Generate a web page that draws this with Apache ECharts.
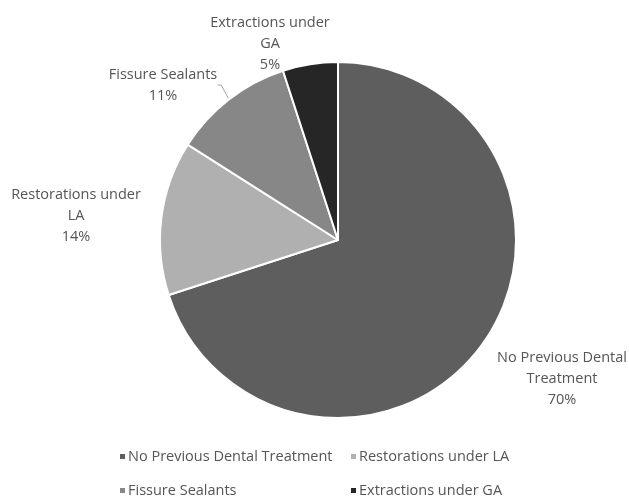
<!DOCTYPE html>
<html>
<head>
<meta charset="utf-8">
<script src="https://cdn.jsdelivr.net/npm/echarts@6/dist/echarts.min.js"></script>
<style>
  html, body { margin: 0; padding: 0; background: #fff; }
  #chart { width: 629px; height: 497px; }
</style>
</head>
<body>
<div id="chart"></div>
<script>
  // 数据
  var categories = ['No Previous Dental Treatment', 'Restorations under LA', 'Fissure Sealants', 'Extractions under GA'];
  var values = [70, 14, 11, 5];
  var labelNames = ['No Previous Dental\nTreatment', 'Restorations under\nLA', 'Fissure Sealants', 'Extractions under\nGA'];
  var colors = ['#5e5e5e', '#b0b0b0', '#878787', '#262626'];

  // label centres (px)
  var labelPos = [[562, 379], [76, 216], [163, 85], [270, 44]];
  // legend item positions (left, top)
  var legendPos = [[113, 444], [344, 444], [113, 478], [344, 478]];

  var myChart = echarts.init(document.getElementById('chart'));
  var font = '"Open Sans", sans-serif';

  var option = {
    animation: false,
    color: colors,
    textStyle: { fontFamily: font },
    legend: categories.map(function (name, i) {
      return {
        left: legendPos[i][0],
        top: legendPos[i][1],
        icon: 'rect',
        itemWidth: 7,
        itemHeight: 7,
        data: [name],
        textStyle: { color: '#555', fontSize: 14.5, fontFamily: font, padding: [0, 0, 0, -3] }
      }
    }),
    series: [{
      type: 'pie',
      center: [338, 240],
      radius: 178,
      startAngle: 90,
      clockwise: true,
      itemStyle: {
        borderColor: '#fff',
        borderWidth: 2
      },
      label: {
        show: true,
        position: 'outside',
        color: '#555',
        fontSize: 14.5,
        fontFamily: font,
        lineHeight: 21,
        align: 'center',
        overflow: 'none',
        formatter: function (p) {
          return labelNames[p.dataIndex] + '\n' + Math.round(p.percent) + '%'
        }
      },
      labelLine: { show: false },
      labelLayout: function (params) {
        var pos = labelPos[params.dataIndex];
        return {
          x: pos[0],
          y: pos[1],
          align: 'center',
          verticalAlign: 'middle'
        }
      },
      data: categories.map(function (name, i) {
        var d = { name: name, value: values[i] };
        if (i === 2) {
          d.labelLine = { show: true, length: 6, length2: 4, lineStyle: { color: '#a6a6a6', width: 1 } };
        }
        return d;
      })
    }]
  };

  myChart.setOption(option, true);
</script>
</body>
</html>
